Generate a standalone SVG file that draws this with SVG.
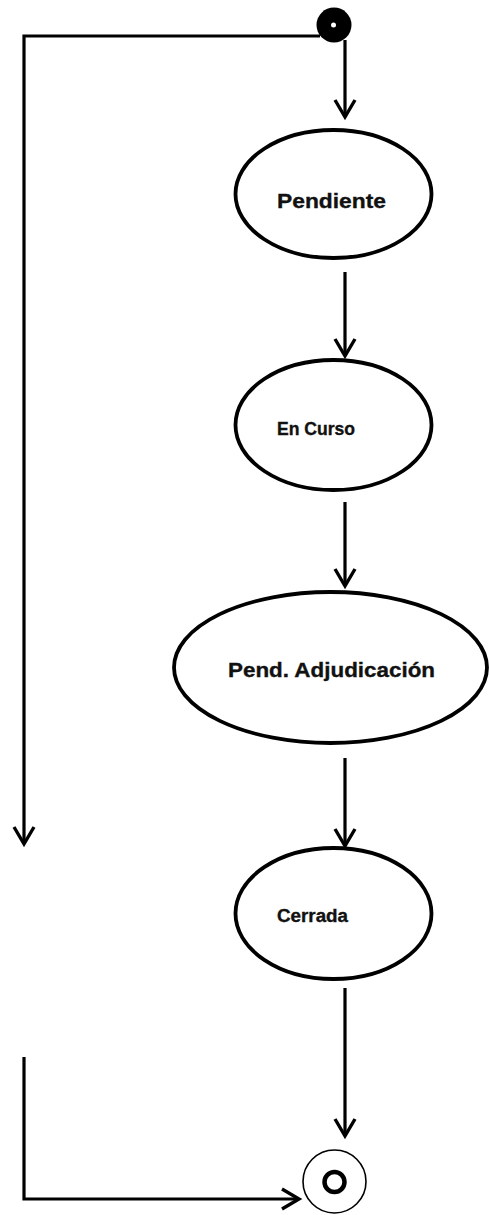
<svg xmlns="http://www.w3.org/2000/svg" width="489" height="1215" viewBox="0 0 489 1215">
  <style>
    .state { fill: #fff; stroke: #000; stroke-width: 3.8; }
    .conn { fill: none; stroke: #000; stroke-width: 3.2; }
    .lbl { font-family: "Liberation Sans", Arial, sans-serif; font-weight: bold; fill: #111; stroke: #111; stroke-width: 0.35; }
  </style>
  <defs>
    <marker id="arrow" markerUnits="userSpaceOnUse" markerWidth="26" markerHeight="26" viewBox="-22 -13 26 26" refX="0" refY="0" orient="auto">
      <path d="M-17,-10 L0,0 L-17,10" fill="none" stroke="#000" stroke-width="3.4" stroke-linejoin="miter"/>
    </marker>
  </defs>
  <rect width="489" height="1215" fill="#fff"/>

  <g id="connectors">
    <path class="conn" d="M320,36 H24 V844" marker-end="url(#arrow)"/>
    <path class="conn" d="M345,40 V117" marker-end="url(#arrow)"/>
    <path class="conn" d="M345,272 V356" marker-end="url(#arrow)"/>
    <path class="conn" d="M345,502 V586" marker-end="url(#arrow)"/>
    <path class="conn" d="M345,758 V846" marker-end="url(#arrow)"/>
    <path class="conn" d="M345,988 V1136" marker-end="url(#arrow)"/>
    <path class="conn" d="M24,1057 V1199 H299" marker-end="url(#arrow)"/>
  </g>

  <g id="initial">
    <circle cx="334" cy="25" r="17.5" fill="#000"/>
    <circle cx="333.5" cy="25" r="2.5" fill="#fff"/>
  </g>

  <g id="pendiente">
    <ellipse class="state" cx="333.5" cy="194" rx="98" ry="64"/>
    <text class="lbl" x="277" y="208" font-size="21" textLength="109" lengthAdjust="spacingAndGlyphs">Pendiente</text>
  </g>

  <g id="en-curso">
    <ellipse class="state" cx="333.5" cy="425" rx="98" ry="65"/>
    <text class="lbl" x="277" y="435" font-size="17.5" textLength="78" lengthAdjust="spacingAndGlyphs">En Curso</text>
  </g>

  <g id="pend-adjudicacion">
    <ellipse class="state" cx="330.5" cy="667.5" rx="156.5" ry="75.5"/>
    <text class="lbl" x="228" y="677" font-size="21" textLength="207" lengthAdjust="spacingAndGlyphs">Pend. Adjudicación</text>
  </g>

  <g id="cerrada">
    <ellipse class="state" cx="333.5" cy="913.5" rx="98" ry="65.5"/>
    <text class="lbl" x="277" y="922" font-size="17.5" textLength="71" lengthAdjust="spacingAndGlyphs">Cerrada</text>
  </g>

  <g id="final">
    <circle cx="334.5" cy="1181.5" r="31.5" fill="#fff" stroke="#000" stroke-width="1.6"/>
    <circle cx="334.5" cy="1182" r="10" fill="none" stroke="#000" stroke-width="4.5"/>
  </g>
</svg>
